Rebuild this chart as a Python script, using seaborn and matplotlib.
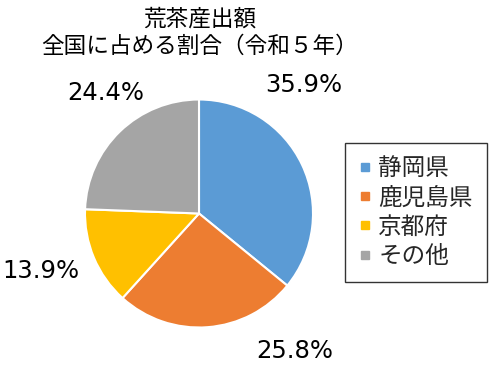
import matplotlib
matplotlib.use("Agg")
import matplotlib.pyplot as plt
import seaborn as sns
from matplotlib.lines import Line2D

categories = ["静岡県", "鹿児島県", "京都府", "その他"]
values = [35.9, 25.8, 13.9, 24.4]
colors_hex = ["#5B9BD5", "#ED7D31", "#FFC000", "#A5A5A5"]
title_text = "荒茶産出額\n全国に占める割合（令和５年）"

sns.set_theme(style="white")
plt.rcParams['font.family'] = ['Noto Sans CJK JP', 'DejaVu Sans']

palette = sns.color_palette(colors_hex)

W, H = 497, 367
fig = plt.figure(figsize=(W / 100, H / 100), dpi=100)
cx, cy, r = 199, 213.5, 114
ax = fig.add_axes([(cx - r) / W, (H - cy - r) / H, 2 * r / W, 2 * r / H])

wedges, _ = ax.pie(values, colors=palette, startangle=90, counterclock=False,
                   wedgeprops=dict(edgecolor="white", linewidth=1.5))
ax.set_xlim(-1, 1)
ax.set_ylim(-1, 1)
ax.set_aspect("equal")
ax.axis("off")

label_pos = [(0.92, 1.13), (0.84, -1.21), (-1.39, -0.50), (-0.82, 1.06)]
for v, (x, y) in zip(values, label_pos):
    ax.text(x, y, f"{v:.1f}%", ha="center", va="center", fontsize=17.5,
            family=['DejaVu Sans', 'Noto Sans CJK JP'],
            color="#000000", clip_on=False)

fig.text(200 / W, 1 - 33 / H, title_text, ha="center", va="center",
         fontsize=16.3, linespacing=1.22, color="#000000")

handles = [Line2D([0], [0], marker="s", linestyle="", markersize=5.5,
                  markerfacecolor=c, markeredgecolor=c) for c in palette]
leg = fig.legend(handles, categories, loc="center",
                 bbox_to_anchor=(416 / W, 1 - 212.5 / H), fontsize=17,
                 frameon=True, fancybox=False, handlelength=0.5,
                 handletextpad=0.3, labelspacing=0.27, borderpad=0.6,
                 borderaxespad=0)
leg.get_frame().set_edgecolor("#000000")
leg.get_frame().set_linewidth(1.0)

fig.savefig("out.png", dpi=100)
